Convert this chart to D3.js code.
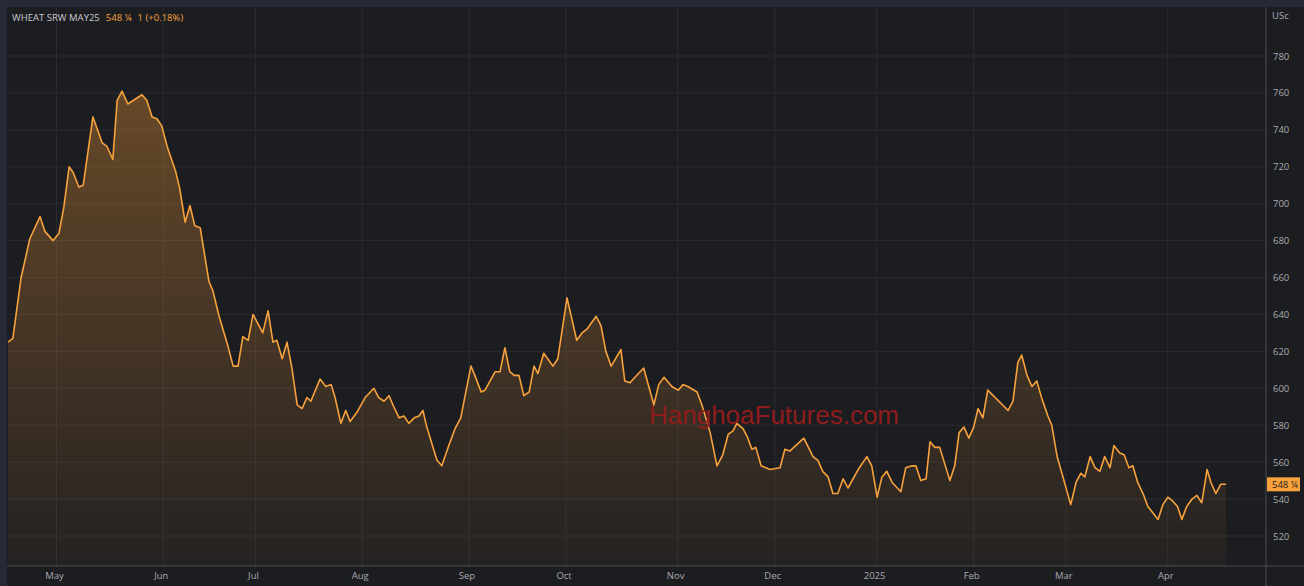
<!DOCTYPE html>
<html>
<head>
<meta charset="utf-8">
<script src="https://cdn.jsdelivr.net/npm/d3@7"></script>
<style>
  body { margin: 0; background: #1c1d21; overflow: hidden; }
  svg { display: block; font-family: "Open Sans", "DejaVu Sans", sans-serif; }
</style>
</head>
<body>
<div id="chart"></div>
<script>
// trading-day index (0 = 17 Apr 2024) and price in US cents
let dayIdx = [0, 1, 2.7, 4.5, 6.6, 7.6, 9.3, 10.5, 11.5, 12.6, 13.4, 14.6, 15.5, 17.5, 19.4, 20.4, 21.6, 22.5, 23.5, 24.7,
  27.6, 28.6, 29.7, 30.7, 31.7, 32.8, 34.6, 35.4, 36.5, 37.5, 38.5, 39.6, 41.4, 42.2, 43.5, 45.3, 46.4, 47.4, 48.4, 49.5,
  50.5, 52.5, 53.6, 54.6, 55.4, 56.5, 57.5, 58.5, 59.6, 60.6, 61.6, 62.4, 64.3, 65.5, 66.6, 67.4, 68.6, 69.6, 70.5, 71.9,
  73.6, 75.4, 76.4, 77.5, 78.5, 79.5, 80.6, 81.6, 82.6, 83.7, 84.7, 85.5, 86.3, 88.4, 89.4, 90.7, 92.1, 93.3, 95.4, 96.2,
  97.5, 98.3, 100.4, 101.4, 102.4, 103.4, 104.3, 105.3, 106.3, 107.4, 108.4, 109.2, 110.4, 112.3, 113.3, 115.2, 117.2, 118.3, 119.3, 121.2,
  122.2, 123.2, 124.3, 126.3, 127.1, 128.2, 129.2, 131, 133.1, 134.1, 135.2, 136.8, 138.1, 139.1, 140.1, 142, 143, 144.7, 146.1, 147.3,
  148.4, 149.4, 150.2, 151.5, 152.3, 153.3, 154.1, 155.2, 157, 159.1, 160.1, 161.1, 164, 165.9, 166.9, 167.9, 169, 170, 171, 172.1,
  173.1, 175.2, 177, 178, 179.1, 180.1, 181.1, 182.2, 184, 185, 186.3, 187.1, 188.1, 189.2, 190, 191, 192, 194.1, 195.1, 196,
  197, 198, 199, 199.9, 200.9, 201.9, 206.1, 207.1, 208.1, 208.9, 210, 211, 212, 213.1, 214.3, 215.1, 216.2, 217.4, 219, 220.1,
  221.1, 221.9, 223, 224, 225, 226, 227.1, 227.9, 229.1, 230, 231, 231.8, 232.8, 233.9, 234.9, 237, 238, 239, 240, 241,
  241.9, 242.9, 244, 245, 246, 247.1, 247.9, 248.9, 249.9, 251]
let price = [625, 627, 660, 681, 693, 685, 680, 684, 698, 720, 717, 709, 710, 747, 733, 731, 724, 756, 761, 754,
  759, 756, 747, 746, 742, 731, 717, 708, 690, 699, 688, 687, 658, 653, 639, 623, 612, 612, 628, 626,
  640, 630, 642, 625, 626, 616, 625, 611, 591, 589, 595, 593, 605, 601, 602, 595, 581, 588, 582, 587,
  595, 600, 595, 593, 596, 590, 584, 585, 581, 584, 585, 588, 579, 561, 558, 568, 578, 584, 612, 607,
  598, 599, 609, 609, 622, 609, 607, 607, 596, 598, 612, 608, 619, 612, 616, 649, 626, 630, 632, 639,
  634, 620, 612, 621, 604, 603, 606, 611, 591, 602, 606, 601, 599, 602, 601, 598, 591, 576, 558, 564,
  575, 577, 581, 578, 574, 567, 568, 558, 556, 557, 567, 566, 573, 563, 561, 555, 552, 543, 543, 551,
  546, 556, 563, 558, 541, 552, 555, 549, 544, 557, 558, 558, 550, 551, 571, 568, 568, 550, 558, 576,
  579, 573, 579, 589, 584, 599, 588, 593, 614, 618, 607, 601, 604, 594, 585, 580, 563, 552, 537, 549,
  554, 552, 563, 557, 555, 563, 557, 569, 565, 564, 557, 558, 549, 543, 536, 529, 537, 541, 539, 536,
  529, 536, 540, 542, 538, 556, 549, 543, 548, 548]
let monthTicks = [10, 32, 51, 73, 95, 115, 138, 158, 179, 199, 218, 239]
let monthLabels = ["May", "Jun", "Jul", "Aug", "Sep", "Oct", "Nov", "Dec", "2025", "Feb", "Mar", "Apr"]
let priceTicks = [520, 540, 560, 580, 600, 620, 640, 660, 680, 700, 720, 740, 760, 780]
let lastPrice = "548 ¼"

let W = 1304, H = 586
let plotRight = 1266, plotBottom = 566

let data = dayIdx.map((d, i) => ({ x: d, y: price[i] }))

let svg = d3.select("#chart").append("svg")
  .attr("width", W)
  .attr("height", H)

let defs = svg.append("defs")
let grad = defs.append("linearGradient")
  .attr("id", "fillGrad").attr("x1", 0).attr("y1", 0).attr("x2", 0).attr("y2", 1)
grad.append("stop").attr("offset", "0%").attr("stop-color", "#f29a35").attr("stop-opacity", 0.35)
grad.append("stop").attr("offset", "100%").attr("stop-color", "#f29a35").attr("stop-opacity", 0.04)

svg.append("rect").attr("width", W).attr("height", H).attr("fill", "#1c1d21")
svg.append("rect").attr("width", W).attr("height", 7).attr("fill", "#252a36")
svg.append("rect").attr("width", 7).attr("height", H).attr("fill", "#252a36")

let x = d3.scaleLinear().domain([0, 251]).range([8, 1226])
let y = d3.scaleLinear().domain([520, 780]).range([536, 56])

// grid
svg.append("g").selectAll("line").data(priceTicks).enter().append("line")
  .attr("x1", 8).attr("x2", plotRight)
  .attr("y1", d => y(d)).attr("y2", d => y(d))
  .attr("stroke", "#2b2c31").attr("stroke-width", 1)
svg.append("g").selectAll("line").data(monthTicks).enter().append("line")
  .attr("x1", d => x(d)).attr("x2", d => x(d))
  .attr("y1", 8).attr("y2", plotBottom)
  .attr("stroke", "#2b2c31").attr("stroke-width", 1)

// axis borders
svg.append("line").attr("x1", plotRight).attr("x2", plotRight).attr("y1", 7).attr("y2", H)
  .attr("stroke", "#4a4b50")
svg.append("line").attr("x1", 7).attr("x2", W).attr("y1", plotBottom).attr("y2", plotBottom)
  .attr("stroke", "#4a4b50")

// area + line
let area = d3.area().x(d => x(d.x)).y0(plotBottom).y1(d => y(d.y))
svg.append("path").datum(data).attr("d", area).attr("fill", "url(#fillGrad)")
let line = d3.line().x(d => x(d.x)).y(d => y(d.y))
svg.append("path").datum(data).attr("d", line)
  .attr("fill", "none").attr("stroke", "#f7a23c").attr("stroke-width", 1.6)
  .attr("stroke-linejoin", "round")

// watermark
svg.append("text").attr("x", 774).attr("y", 424).attr("text-anchor", "middle")
  .attr("fill", "#8e1c1c").attr("font-size", 26).attr("font-family", "Liberation Sans, Arial, sans-serif")
  .text("HanghoaFutures.com")

// y labels
svg.append("g").selectAll("text").data(priceTicks).enter().append("text")
  .attr("x", 1273).attr("y", d => y(d) + 3.5)
  .attr("fill", "#a9aab0").attr("font-size", 9.5)
  .text(d => d)
svg.append("text").attr("x", 1272).attr("y", 19).attr("fill", "#a9aab0").attr("font-size", 9.5).text("USc")

// x labels
svg.append("g").selectAll("text").data(monthTicks).enter().append("text")
  .attr("x", d => x(d) - 2).attr("y", 579).attr("text-anchor", "middle")
  .attr("fill", "#a9aab0").attr("font-size", 9.5)
  .text((d, i) => monthLabels[i])

// last price tag
let last = data[data.length - 1]
svg.append("rect").attr("x", 1267).attr("y", y(last.y) - 7).attr("width", 33).attr("height", 14)
  .attr("fill", "#f7a23c")
svg.append("text").attr("x", 1272).attr("y", y(last.y) + 3.5)
  .attr("fill", "#1c1d21").attr("font-size", 9.5).text(lastPrice)

// header
let hdr = svg.append("text").attr("x", 12).attr("y", 21).attr("font-size", 9.5)
hdr.append("tspan").attr("fill", "#c9cad0").text("WHEAT SRW MAY25")
hdr.append("tspan").attr("fill", "#f7a23c").attr("dx", 6).text("548 ¼")
hdr.append("tspan").attr("fill", "#f7a23c").attr("dx", 6).text("1 (+0.18%)")
</script>
</body>
</html>
